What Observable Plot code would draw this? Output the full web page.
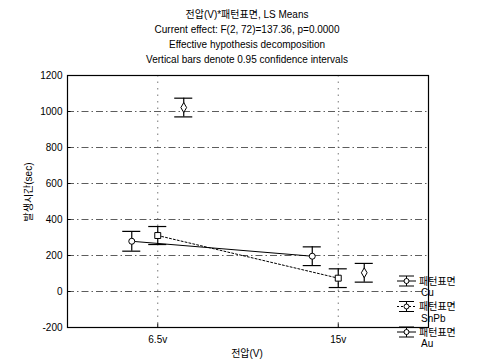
<!DOCTYPE html>
<html><head><meta charset="utf-8">
<script src="https://cdn.jsdelivr.net/npm/d3@7"></script>
<script src="https://cdn.jsdelivr.net/npm/@observablehq/plot@0.6"></script>
<style>
body{margin:0;background:#fff;}
#chart{position:relative;width:499px;height:360px;}
svg{font-family:"Liberation Sans","Noto Sans CJK KR",sans-serif;}
</style></head>
<body><div id="chart"></div>
<script>
const titleLines = ["전압(V)*패턴표면, LS Means","Current effect: F(2, 72)=137.36, p=0.0000","Effective hypothesis decomposition","Vertical bars denote 0.95 confidence intervals"];
const categories = ["6.5v","15v"];
const series = ["Cu","SnPb","Au"];
const legendPrefix = "패턴표면";
const meansCu = [279, 196];
const meansSnPb = [311, 74];
const meansAu = [1022, 104];
const halfCICu = [55, 52];
const halfCISnPb = [50, 52];
const halfCIAu = [52, 52];
const yTicks = [-200,0,200,400,600,800,1000,1200];
const xLabel = "전압(V)";
const yLabel = "발생시간(sec)";

const means = [meansCu, meansSnPb, meansAu];
const cis = [halfCICu, halfCISnPb, halfCIAu];
const dodge = 0.144;
const rows = [];
series.forEach((s, si) => categories.forEach((c, ci) => {
  rows.push({series: s, si, cat: c, x: ci + 1 + (si - 1) * dodge, y: means[si][ci], lo: means[si][ci] - cis[si][ci], hi: means[si][ci] + cis[si][ci]});
}));
const cap = 0.05;
const symbols = {Cu: "circle", SnPb: "square", Au: "diamond"};
const lineDash = {Cu: null, SnPb: "2,2"};
const innerTicks = yTicks.slice(1, -1);

const marks = [
  Plot.ruleY(innerTicks, {stroke: "#333", strokeWidth: 0.8, strokeDasharray: "7,3,1.5,3"}),
  Plot.ruleX([1, 2], {stroke: "#555", strokeWidth: 0.8, strokeDasharray: "1.5,5"}),
  Plot.ruleY(innerTicks, {x1: 0.5, x2: 0.52, stroke: "#000", strokeWidth: 1}),
  Plot.ruleX([1, 2], {y1: -200, y2: -180, stroke: "#000", strokeWidth: 1}),
  Plot.line(rows.filter(d => d.series === "Cu"), {x: "x", y: "y", stroke: "#000", strokeWidth: 1}),
  Plot.line(rows.filter(d => d.series === "SnPb"), {x: "x", y: "y", stroke: "#000", strokeWidth: 1, strokeDasharray: "2,2"}),
  Plot.ruleX(rows, {x: "x", y1: "lo", y2: "hi", stroke: "#000", strokeWidth: 1.2}),
  Plot.ruleY(rows, {y: "lo", x1: d => d.x - cap, x2: d => d.x + cap, stroke: "#000", strokeWidth: 1.2}),
  Plot.ruleY(rows, {y: "hi", x1: d => d.x - cap, x2: d => d.x + cap, stroke: "#000", strokeWidth: 1.2}),
  Plot.dot(rows, {x: "x", y: "y", symbol: d => symbols[d.series], r: d => d.series === "SnPb" ? 3.5 : 2.8, fill: "#fff", stroke: "#000", strokeWidth: 1}),
  Plot.axisY({ticks: yTicks, tickFormat: d => String(d), tickSize: 0, tickPadding: 5, fontSize: 10, label: null}),
  Plot.axisX({ticks: [1, 2], tickFormat: d => categories[d - 1], tickSize: 0, tickPadding: 8, fontSize: 10, label: null}),
  Plot.frame({stroke: "#000", strokeWidth: 1.2})
];

const chart = Plot.plot({
  width: 499, height: 360,
  marginTop: 75, marginBottom: 33, marginLeft: 67, marginRight: 71,
  x: {type: "linear", domain: [0.5, 2.5]},
  y: {domain: [-200, 1200]},
  symbol: {type: "ordinal"},
  style: {fontFamily: '"Liberation Sans","Noto Sans CJK KR",sans-serif', fontSize: "10px", color: "#000", background: "#fff"},
  marks
});
document.getElementById("chart").appendChild(chart);

const svg = d3.select(chart);
const cx = 247;
titleLines.forEach((t, i) => {
  svg.append("text").attr("x", cx).attr("y", [18, 33, 48, 63][i]).attr("text-anchor", "middle").attr("font-size", 10).attr("fill", "#000").text(t);
});
svg.append("text").attr("x", cx).attr("y", 357).attr("text-anchor", "middle").attr("font-size", 10).text(xLabel);
svg.append("text").attr("transform", "translate(32,192) rotate(-90)").attr("text-anchor", "middle").attr("font-size", 10).text(yLabel);

// legend
series.forEach((s, i) => {
  const y0 = 281 + i * 25.5;
  const g = svg.append("g").attr("stroke", "#000").attr("fill", "none");
  g.append("line").attr("x1", 397).attr("x2", 416).attr("y1", y0).attr("y2", y0).attr("stroke-dasharray", lineDash[s] || null);
  g.append("line").attr("x1", 399).attr("x2", 414).attr("y1", y0 - 5).attr("y2", y0 - 5);
  g.append("line").attr("x1", 399).attr("x2", 414).attr("y1", y0 + 5).attr("y2", y0 + 5);
  g.append("line").attr("x1", 406.5).attr("x2", 406.5).attr("y1", y0 - 5).attr("y2", y0 + 5);
  g.append("circle").attr("cx", 406.5).attr("cy", y0).attr("r", 2.5).attr("fill", "#fff");
  svg.append("text").attr("x", 419).attr("y", y0 + 3.5).attr("text-anchor", "start").attr("font-size", 10).text(legendPrefix);
  svg.append("text").attr("x", 421).attr("y", y0 + 15).attr("text-anchor", "start").attr("font-size", 10).text(s);
});
</script></body></html>
